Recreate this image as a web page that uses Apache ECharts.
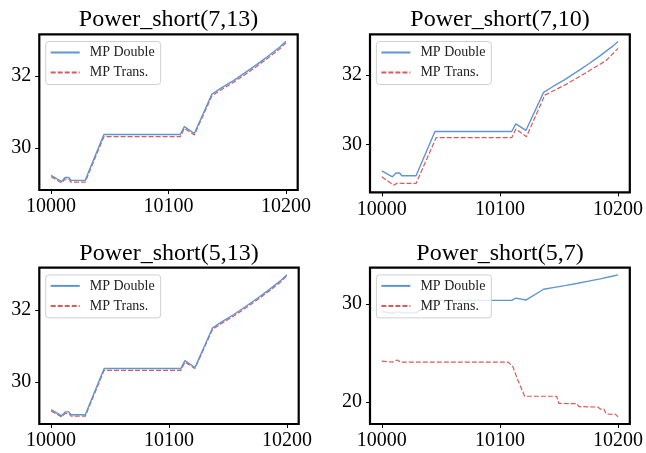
<!DOCTYPE html>
<html>
<head>
<meta charset="utf-8">
<script src="https://cdn.jsdelivr.net/npm/echarts@6/dist/echarts.min.js"></script>
<style>
  html, body { margin: 0; padding: 0; background: #fff; }
  #chart { width: 646px; height: 453px; }
</style>
</head>
<body>
<div id="chart"></div>
<script>
// Panel titles
const titles = ['Power_short(7,13)', 'Power_short(7,10)', 'Power_short(5,13)', 'Power_short(5,7)'];
const seriesNames = ['MP Double', 'MP Trans.'];

// Shared x ticks and per-panel y ticks
const xTicks = [10000, 10100, 10200];
const yTicks = [[30, 32], [30, 32], [30, 32], [20, 30]];

// MP Double run (identical in every panel)
const xDouble = [10000, 10009, 10012, 10015, 10017, 10029, 10045, 10110, 10113.5, 10122, 10137, 10145, 10155, 10165, 10175, 10185, 10195, 10200];
const yDouble = [29.23, 29.06, 29.17, 29.17, 29.09, 29.09, 30.37, 30.37, 30.59, 30.40, 31.50, 31.67, 31.87, 32.09, 32.32, 32.56, 32.82, 32.97];

// MP Trans. runs, one per panel
const xTrans713 = [10000, 10009, 10012, 10015, 10017, 10029, 10045, 10110, 10113.5, 10122, 10137, 10145, 10155, 10165, 10175, 10185, 10195, 10200];
const yTrans713 = [29.19, 29.02, 29.13, 29.13, 29.04, 29.04, 30.31, 30.31, 30.54, 30.36, 31.45, 31.62, 31.82, 32.04, 32.27, 32.51, 32.77, 32.93];

const xTrans710 = [10000, 10010, 10014, 10016.5, 10029, 10046, 10110, 10113.5, 10122.5, 10138, 10156, 10173, 10190, 10200];
const yTrans710 = [29.06, 28.82, 28.89, 28.87, 28.87, 30.19, 30.19, 30.44, 30.22, 31.42, 31.73, 32.07, 32.42, 32.77];

const xTrans513 = [10000, 10009, 10012, 10015, 10017, 10029, 10045, 10110, 10113.5, 10122, 10137, 10145, 10155, 10165, 10175, 10185, 10195, 10200];
const yTrans513 = [29.19, 29.03, 29.13, 29.13, 29.05, 29.05, 30.32, 30.32, 30.55, 30.37, 31.46, 31.63, 31.83, 32.05, 32.28, 32.52, 32.78, 32.94];

const xTrans57 = [10000, 10009, 10013, 10016, 10107, 10111, 10115, 10121, 10148, 10150, 10165, 10167, 10183, 10185, 10188, 10190, 10198, 10200];
const yTrans57 = [24.18, 24.08, 24.29, 24.08, 24.08, 23.60, 22.30, 20.60, 20.60, 19.87, 19.85, 19.55, 19.50, 19.30, 19.30, 18.80, 18.75, 18.50];

const transX = [xTrans713, xTrans710, xTrans513, xTrans57];
const transY = [yTrans713, yTrans710, yTrans513, yTrans57];

const zip = (xs, ys) => xs.map((x, i) => [x, ys[i]]);

// Panel rectangles in pixels
const panels = [
  { left: 39.3, top: 34.3, width: 258.4, height: 155.7 },
  { left: 370, top: 34.3, width: 260, height: 158 },
  { left: 39.3, top: 267.7, width: 259.4, height: 156.3 },
  { left: 370, top: 267.7, width: 260, height: 156.3 }
];
const titleTops = [8, 8, 242, 242];

const BLUE = '#5f95d1';
const RED = '#dc5a5a';
const FONT = '"Liberation Serif", "DejaVu Serif", serif';

const grid = [], xAxis = [], yAxis = [], series = [], title = [], legend = [];

panels.forEach((p, i) => {
  grid.push({
    left: p.left, top: p.top, width: p.width, height: p.height,
    show: true, borderColor: '#000', borderWidth: 2.2, backgroundColor: 'transparent',
    containLabel: false
  });

  const allY = yDouble.concat(transY[i]);
  const lo = Math.min(...allY), hi = Math.max(...allY);
  const pad = (hi - lo) * 0.05;

  xAxis.push({
    type: 'value', gridIndex: i, min: 9990, max: 10210,
    axisLine: { show: false },
    splitLine: { show: false },
    axisTick: { show: true, length: 4, lineStyle: { color: '#000', width: 1 }, customValues: xTicks },
    axisLabel: {
      customValues: xTicks, color: '#000', fontFamily: FONT, fontSize: 20, margin: 7,
      formatter: v => String(v)
    }
  });
  yAxis.push({
    type: 'value', gridIndex: i, min: lo - pad, max: hi + pad,
    axisLine: { show: false },
    splitLine: { show: false },
    axisTick: { show: true, length: 4, lineStyle: { color: '#000', width: 1 }, customValues: yTicks[i] },
    axisLabel: {
      customValues: yTicks[i], color: '#000', fontFamily: FONT, fontSize: 20, margin: 8,
      formatter: v => String(v)
    }
  });

  series.push({
    name: seriesNames[0], type: 'line', xAxisIndex: i, yAxisIndex: i,
    data: zip(xDouble, yDouble), symbol: 'none', showSymbol: false, animation: false,
    lineStyle: { color: BLUE, width: 1.4 }, itemStyle: { color: BLUE }, z: 3
  });
  series.push({
    name: seriesNames[1], type: 'line', xAxisIndex: i, yAxisIndex: i,
    data: zip(transX[i], transY[i]), symbol: 'none', showSymbol: false, animation: false,
    lineStyle: { color: RED, width: 1.2, type: [5, 2] }, itemStyle: { color: RED }, z: 2
  });

  title.push({
    text: titles[i], left: p.left + p.width / 2, top: titleTops[i], textAlign: 'center', padding: 0,
    textStyle: { fontFamily: FONT, fontSize: 24, fontWeight: 'normal', color: '#000' }
  });

  legend.push({
    data: seriesNames, orient: 'vertical',
    left: p.left + 6.4, top: p.top + 7.2,
    padding: [4, 6, 5, 4], itemWidth: 29, itemHeight: 14, itemGap: 6,
    backgroundColor: 'rgba(255,255,255,0.8)', borderColor: '#d0d0d0', borderWidth: 1, borderRadius: 3,
    selectedMode: false,
    itemStyle: { opacity: 0 },
    textStyle: { fontFamily: FONT, fontSize: 14, color: '#222', padding: [0, 0, 0, 5] }
  });
});

const chart = echarts.init(document.getElementById('chart'), null, { renderer: 'canvas' });
chart.setOption({ animation: false, backgroundColor: '#fff', title, legend, grid, xAxis, yAxis, series });
</script>
</body>
</html>
